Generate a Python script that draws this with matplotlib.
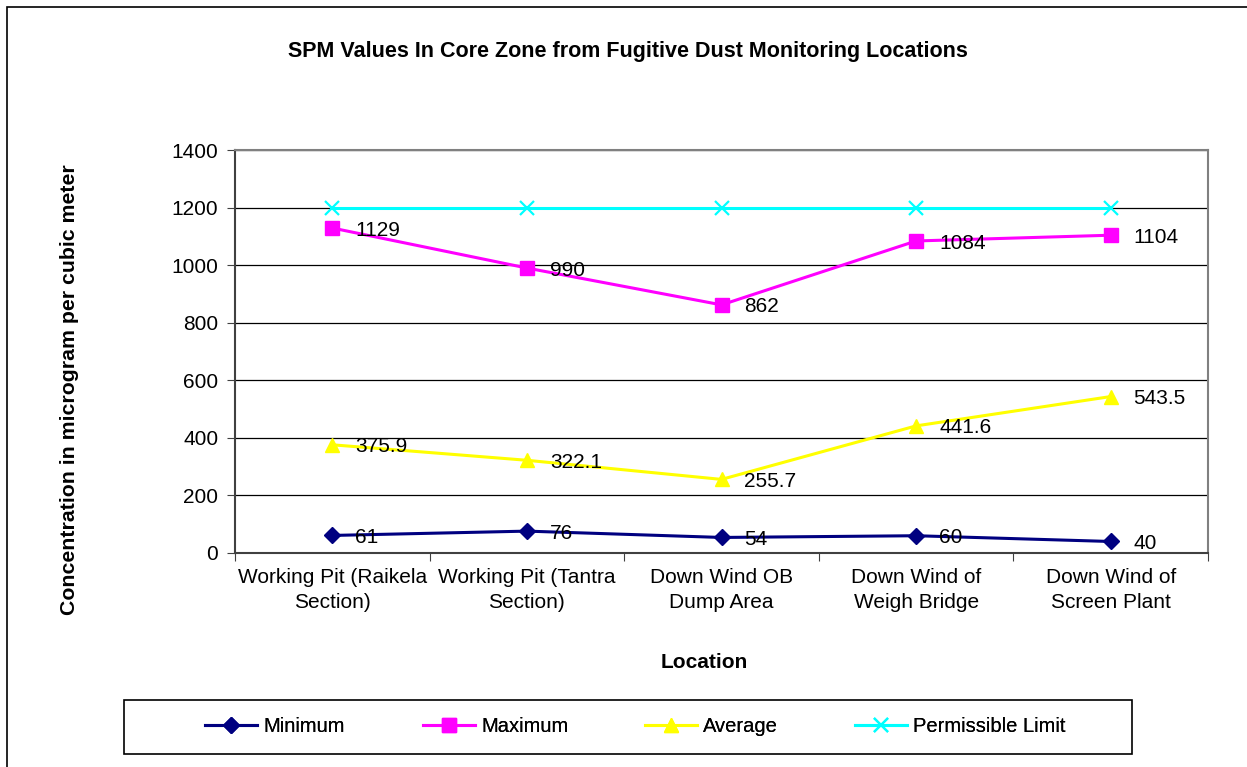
"""
SPM-verdiar i kjernesona frå overvaking av flyktig støv.
"""

import numpy as np
from matplotlib import pyplot as plt
from matplotlib.patches import Rectangle

# Data
locations = ['Working Pit (Raikela\nSection)', 'Working Pit (Tantra\nSection)',
             'Down Wind OB\nDump Area', 'Down Wind of\nWeigh Bridge',
             'Down Wind of\nScreen Plant']
minimum = [61, 76, 54, 60, 40]
maximum = [1129, 990, 862, 1084, 1104]
average = [375.9, 322.1, 255.7, 441.6, 543.5]
limit = [1200, 1200, 1200, 1200, 1200]

min_labels = ['61', '76', '54', '60', '40']
max_labels = ['1129', '990', '862', '1084', '1104']
avg_labels = ['375.9', '322.1', '255.7', '441.6', '543.5']

plt.rcParams['font.family'] = ['Liberation Sans', 'DejaVu Sans']

W, H = 1247, 767
fig = plt.figure(figsize=(W / 100, H / 100), dpi=100)

# Ytre ramme
fig.patches.append(Rectangle((7 / W, -0.05), 1.2, 1 - 7 / H + 0.05,
                             transform=fig.transFigure, fill=False,
                             edgecolor='black', linewidth=1.2))

ax = fig.add_axes([235 / W, 1 - 553 / H, (1208 - 235) / W, (553 - 150) / H])
x = np.arange(len(locations))

series = [
    (minimum, '#000080', 'D', 8.5, 'Minimum', min_labels),
    (maximum, '#FF00FF', 's', 10.5, 'Maximum', max_labels),
    (average, '#FFFF00', '^', 10.5, 'Average', avg_labels),
    (limit, '#00FFFF', 'x', 10, 'Permissible Limit', None),
]

handles = []
for vals, col, mk, ms, name, labs in series:
    ln, = ax.plot(x, vals, color=col, marker=mk, markersize=ms, linewidth=2.2,
                  markeredgewidth=1.6 if mk == 'x' else 1, zorder=3, label=name)
    handles.append(ln)
    if labs is not None:
        for xi, yi, t in zip(x, vals, labs):
            ax.annotate(t, (xi, yi), xytext=(16.5, -1.5), textcoords='offset points',
                        ha='left', va='center', fontsize=15, zorder=4)

ax.set_xlim(-0.5, len(locations) - 0.5)
ax.set_ylim(0, 1400)
ax.set_yticks(np.arange(0, 1401, 200))
ax.set_xticks(np.arange(-0.5, len(locations), 1.0))
ax.set_xticklabels([])
ax.set_xticks(x, minor=True)
ax.set_xticklabels(locations, minor=True, fontsize=15, linespacing=1.35)
ax.tick_params(axis='x', which='minor', length=0, pad=11)
ax.tick_params(axis='x', which='major', length=6, direction='out', color='#404040')
ax.tick_params(axis='y', length=6, direction='out', color='#404040', labelsize=15, pad=6)

ax.grid(axis='y', color='black', linewidth=0.9)
ax.set_axisbelow(True)
for s in ['top', 'right']:
    ax.spines[s].set_color('#808080')
    ax.spines[s].set_linewidth(1.5)
for s in ['left', 'bottom']:
    ax.spines[s].set_color('#404040')
    ax.spines[s].set_linewidth(1.5)

fig.text(628 / W, 1 - 52 / H, 'SPM Values In Core Zone from Fugitive Dust Monitoring Locations',
         ha='center', va='center', fontsize=15.5, fontweight='bold')
fig.text(704 / W, 1 - 662 / H, 'Location', ha='center', va='center',
         fontsize=15, fontweight='bold')
fig.text(70 / W, 1 - 390 / H, 'Concentration in microgram per cubic meter',
         ha='center', va='center', rotation=90, fontsize=15.3, fontweight='bold')

# Forklaring
fig.patches.append(Rectangle((124 / W, 1 - 754 / H), (1132 - 124) / W, 54 / H,
                             transform=fig.transFigure, fill=False,
                             edgecolor='black', linewidth=1.2))
starts = [205, 423, 645, 855]
for h, sx in zip(handles, starts):
    lg = fig.legend(handles=[h], loc='center left',
                    bbox_to_anchor=(sx / W, 1 - 727 / H),
                    frameon=False, fontsize=14.5, handlelength=2.6,
                    handletextpad=0.3, borderpad=0, borderaxespad=0)
    fig.add_artist(lg)

plt.savefig('out.png', dpi=100)
